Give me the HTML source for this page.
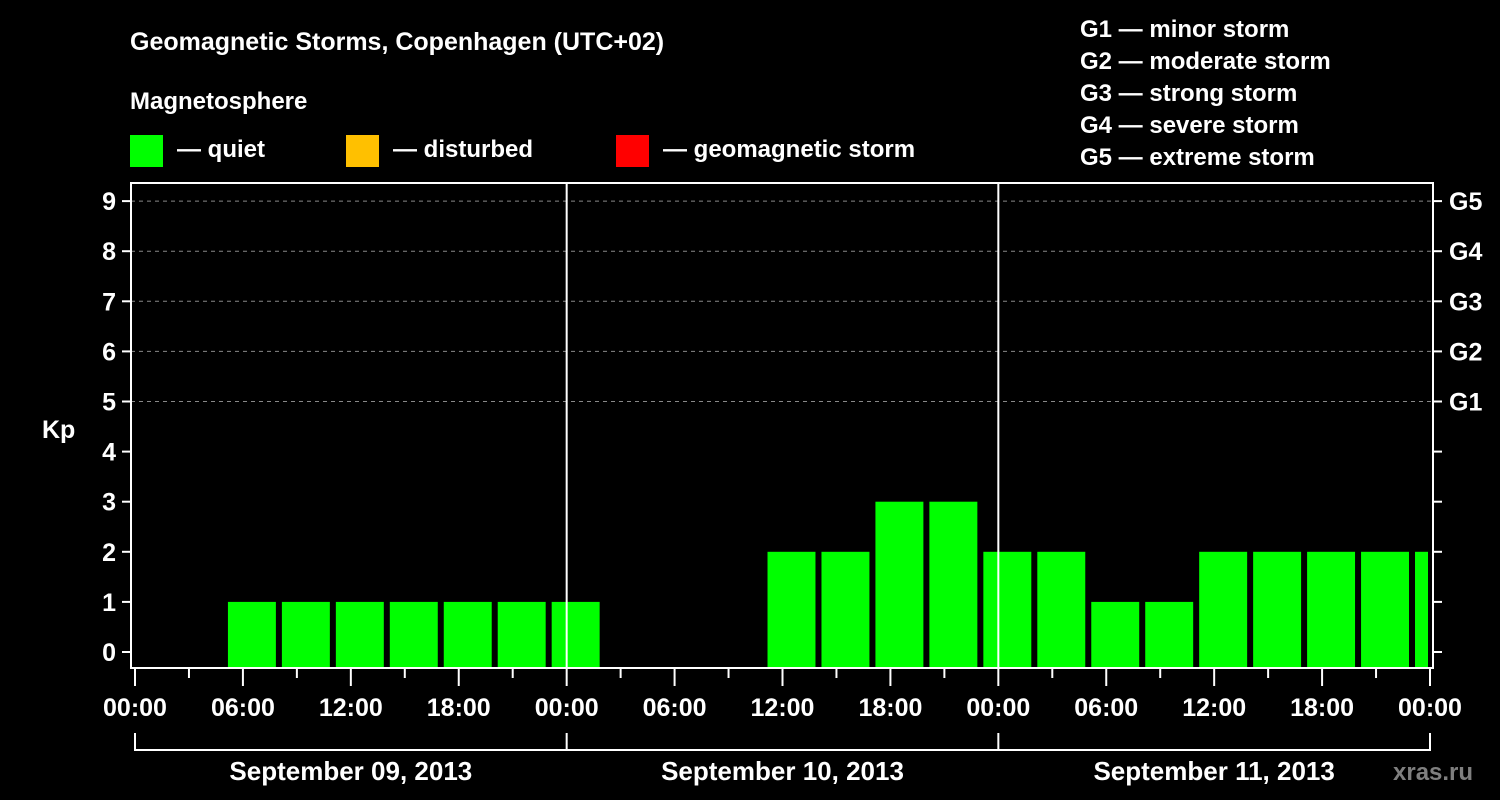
<!DOCTYPE html>
<html><head><meta charset="utf-8"><style>
body{margin:0;background:#000;}
svg{display:block;font-family:"Liberation Sans",sans-serif;font-weight:bold;fill:#fff;}
</style></head><body>
<svg id="c" width="1500" height="800" viewBox="0 0 1500 800">
<text x="130" y="50" font-size="25">Geomagnetic Storms, Copenhagen (UTC+02)</text>
<text x="130" y="109" font-size="24">Magnetosphere</text>
<g><rect x="130" y="135" width="33" height="32" fill="#00ff00"/><text x="177" y="157" font-size="24">— quiet</text></g>
<g><rect x="346" y="135" width="33" height="32" fill="#ffc000"/><text x="393" y="157" font-size="24">— disturbed</text></g>
<g><rect x="616" y="135" width="33" height="32" fill="#ff0000"/><text x="663" y="157" font-size="24">— geomagnetic storm</text></g>
<g font-size="24">
<text x="1080" y="37">G1 — minor storm</text>
<text x="1080" y="69">G2 — moderate storm</text>
<text x="1080" y="101">G3 — strong storm</text>
<text x="1080" y="133">G4 — severe storm</text>
<text x="1080" y="165">G5 — extreme storm</text>
</g>
<text x="42" y="438" font-size="25">Kp</text>
<text x="1393" y="780" font-size="24" fill="#888" style="fill:#7f7f7f">xras.ru</text>
<g id="plot"></g>
</svg>
<script>
const kpValues=[0,0,1,1,1,1,1,1,1,0,0,0,2,2,3,3,2,2,1,1,2,2,2,2,2];
const xTickLabels=["00:00","06:00","12:00","18:00","00:00","06:00","12:00","18:00","00:00","06:00","12:00","18:00","00:00"];
const dayLabels=["September 09, 2013","September 10, 2013","September 11, 2013"];
const yTickLabels=["0","1","2","3","4","5","6","7","8","9"];
const gLabels=["G1","G2","G3","G4","G5"];
const NS="http://www.w3.org/2000/svg";
const L=135,R=1430,T=183,B=668,AX=131,AXR=1433;
const hourPx=(R-L)/72;
const xh=h=>L+h*hourPx;
const y=v=>652-v*50.1;
const plot=document.getElementById('plot');
function mk(tag,attrs,parent){const e=document.createElementNS(NS,tag);for(const k in attrs)e.setAttribute(k,attrs[k]);(parent||plot).appendChild(e);return e;}
// gridlines
for(let v=5;v<=9;v++){const g=mk('line',{x1:AX,x2:AXR,y1:y(v),y2:y(v),stroke:'#888','stroke-dasharray':'4,4','stroke-width':1});

}
// bars: slot i starts at local hour -1 + 3*i (UTC+2 offset, first slot partial)
kpValues.forEach((v,i)=>{if(v<=0)return;
let s=-1+3*i,e=s+3;let x1=xh(s)+3,x2=Math.min(xh(e)-3,R-2);if(x1<L)x1=L;
const col=v>=5?'#ff0000':(v>=4?'#ffc000':'#00ff00');
const r=mk('rect',{x:x1,y:y(v),width:x2-x1,height:B-y(v),fill:col});

});
// day separators
[24,48].forEach(h=>{const l=mk('line',{x1:xh(h),x2:xh(h),y1:T,y2:B,stroke:'#fff','stroke-width':2});

});
// frame
const f=mk('path',{d:`M${AX} ${T}H${AXR}V${B}H${AX}Z`,fill:'none',stroke:'#fff','stroke-width':2});


// y ticks
yTickLabels.forEach((t,v)=>{mk('line',{x1:AX-9,x2:AX,y1:y(v),y2:y(v),stroke:'#fff','stroke-width':2});
mk('line',{x1:AXR,x2:AXR+9,y1:y(v),y2:y(v),stroke:'#fff','stroke-width':2});
const tx=mk('text',{x:116,y:y(v)+9,'font-size':25,'text-anchor':'end'});tx.textContent=t;

});
gLabels.forEach((t,i)=>{const tx=mk('text',{x:1449,y:y(5+i)+9,'font-size':25});tx.textContent=t;

});
// x ticks
for(let h=0;h<=72;h+=3){const major=h%6===0;mk('line',{x1:xh(h),x2:xh(h),y1:B,y2:major?686:678,stroke:'#fff','stroke-width':2});}
xTickLabels.forEach((t,i)=>{const tx=mk('text',{x:xh(i*6),y:716,'font-size':25,'text-anchor':'middle'});tx.textContent=t;

});
// day brackets
mk('path',{d:`M${L} 733V750H${R}V733M${xh(24)} 733V750M${xh(48)} 733V750`,fill:'none',stroke:'#fff','stroke-width':2});
dayLabels.forEach((t,i)=>{const tx=mk('text',{x:xh(i*24+12),y:780,'font-size':26,'text-anchor':'middle'});tx.textContent=t;

});
</script>
</body></html>
